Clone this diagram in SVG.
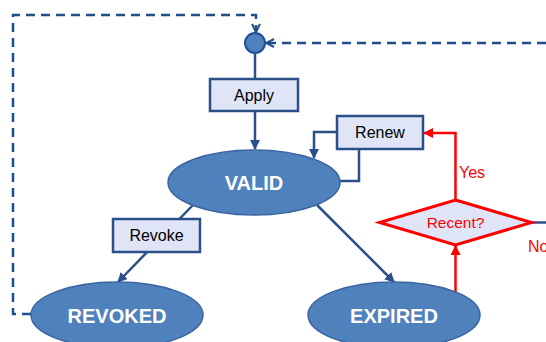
<svg xmlns="http://www.w3.org/2000/svg" width="546" height="342" viewBox="0 0 546 342">
  <style>
    .state { fill: #4f81bd; stroke: #3a64a0; stroke-width: 1.5; }
    .state-label { font-family: "Liberation Sans", Arial, sans-serif; font-size: 20px; font-weight: bold; fill: #ffffff; text-anchor: middle; }
    .action { fill: #dfe5f6; stroke: #2b5089; stroke-width: 2.5; }
    .action-label { font-family: "Liberation Sans", Arial, sans-serif; font-size: 16px; fill: #000000; text-anchor: middle; }
    .flow { fill: none; stroke: #2b5089; stroke-width: 2.5; }
    .loop { fill: none; stroke: #1f4e8c; stroke-width: 2.5; stroke-dasharray: 9 6; }
    .check { fill: none; stroke: #ff0000; stroke-width: 2.5; }
    .check-label { font-family: "Liberation Sans", Arial, sans-serif; font-size: 16px; fill: #ff0000; }
    .decision-label { font-family: "Liberation Sans", Arial, sans-serif; font-size: 15.5px; fill: #ff0000; text-anchor: middle; }
  </style>
  <defs>
    <marker id="arrow-blue" viewBox="0 0 10 10" refX="9" refY="5" markerWidth="4" markerHeight="4" orient="auto" markerUnits="strokeWidth">
      <path d="M0,0 L10,5 L0,10 z" fill="#2b5089"/>
    </marker>
    <marker id="arrow-red" viewBox="0 0 10 10" refX="9" refY="5" markerWidth="4" markerHeight="4" orient="auto" markerUnits="strokeWidth">
      <path d="M0,0 L10,5 L0,10 z" fill="#ff0000"/>
    </marker>
    <marker id="arrow-open" viewBox="0 0 10 10" refX="9" refY="5" markerWidth="4" markerHeight="4" orient="auto" markerUnits="strokeWidth">
      <path d="M1,1 L9,5 L1,9" fill="none" stroke="#1f4e8c" stroke-width="2"/>
    </marker>
  </defs>

  <!-- connectors -->
  <g id="connectors">
    <!-- loop back from REVOKED to the start point -->
    <path class="loop" d="M31,314 H13 V15 H256 V32" marker-end="url(#arrow-open)"/>
    <!-- loop back from the right to the start point -->
    <path class="loop" d="M546,43 H266" marker-end="url(#arrow-open)"/>
    <!-- start to VALID via Apply -->
    <path class="flow" d="M255,53 V149" marker-end="url(#arrow-blue)"/>
    <!-- VALID renew loop -->
    <path class="flow" d="M340,181 H359 V149"/>
    <path class="flow" d="M337,132 H314 V158" marker-end="url(#arrow-blue)"/>
    <!-- VALID to REVOKED via Revoke -->
    <path class="flow" d="M193,205 L118,282" marker-end="url(#arrow-blue)"/>
    <!-- VALID to EXPIRED -->
    <path class="flow" d="M317,205 L394,282" marker-end="url(#arrow-blue)"/>
    <!-- EXPIRED to decision -->
    <path class="check" d="M455.5,292 V246" marker-end="url(#arrow-red)"/>
    <!-- decision Yes branch to Renew -->
    <path class="check" d="M455.5,200 V133 H424" marker-end="url(#arrow-red)"/>
    <!-- decision No branch -->
    <path class="flow" d="M531,222.5 H546"/>
  </g>

  <!-- start point -->
  <g id="start">
    <circle cx="255" cy="43" r="10" fill="#4f81bd" stroke="#1f4e9a" stroke-width="2"/>
  </g>

  <g id="apply">
    <rect class="action" x="210" y="79" width="88" height="32"/>
    <text class="action-label" x="254" y="100.5">Apply</text>
  </g>

  <g id="renew">
    <rect class="action" x="337" y="116" width="86" height="33"/>
    <text class="action-label" x="380" y="138">Renew</text>
  </g>

  <g id="revoke">
    <rect class="action" x="113" y="219" width="87" height="33"/>
    <text class="action-label" x="156.5" y="241">Revoke</text>
  </g>

  <g id="valid">
    <ellipse class="state" cx="254" cy="182.5" rx="86" ry="32.5"/>
    <text class="state-label" x="254" y="190">VALID</text>
  </g>

  <g id="revoked">
    <ellipse class="state" cx="117" cy="315" rx="86" ry="33"/>
    <text class="state-label" x="117" y="322.5">REVOKED</text>
  </g>

  <g id="expired">
    <ellipse class="state" cx="394" cy="315" rx="86" ry="33"/>
    <text class="state-label" x="394" y="322.5">EXPIRED</text>
  </g>

  <g id="recent">
    <polygon points="455.5,200 531.5,222.5 455.5,245 379.5,222.5" fill="#dfe5f6" stroke="#ff0000" stroke-width="3"/>
    <text class="decision-label" x="455.5" y="228">Recent?</text>
  </g>

  <text class="check-label" x="459" y="178">Yes</text>
  <text class="check-label" x="528" y="252">No</text>
</svg>
